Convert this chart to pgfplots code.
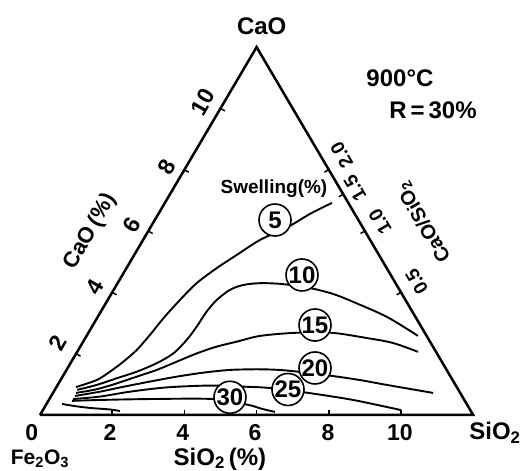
\documentclass[border=0pt]{standalone}
\usepackage{pgfplots}
\pgfplotsset{compat=1.18}
\usepackage{pgfplotstable}
\usepackage{fontspec}
\setmainfont{Liberation Sans}

% triangle (SiO2 %, CaO %)
\pgfplotstableread{
s c
0 0
12 0
0 12
0 0
}\triframe

% swelling contours, (SiO2 %, CaO %)
\pgfplotstableread{
s c
0.54 0.91
1.00 1.14
1.23 1.41
1.44 1.74
1.62 2.12
1.74 2.61
1.84 3.15
2.00 3.75
2.19 4.30
2.50 4.79
2.84 5.22
3.24 5.71
3.80 6.13
4.20 6.56
4.63 6.92
}\cFive

\pgfplotstableread{
s c
0.62 0.82
1.08 0.98
1.53 1.20
1.97 1.41
2.39 1.69
2.69 2.01
2.84 2.45
2.90 2.88
2.93 3.37
3.02 3.75
3.22 4.08
3.51 4.24
3.95 4.30
4.59 4.27
5.41 4.14
6.14 3.95
6.83 3.69
8.01 3.20
9.18 2.58
}\cTen

\pgfplotstableread{
s c
0.64 0.72
1.15 0.84
1.61 1.03
2.05 1.25
2.50 1.47
2.92 1.74
3.34 2.01
3.78 2.23
4.25 2.39
4.81 2.58
5.73 2.68
6.75 2.68
7.80 2.51
8.60 2.35
9.44 2.06
}\cFifteen

\pgfplotstableread{
s c
0.66 0.62
1.28 0.76
1.85 0.92
2.50 1.09
3.16 1.25
3.83 1.38
4.53 1.47
5.35 1.49
6.12 1.45
7.48 1.27
8.29 1.14
9.12 0.98
10.53 0.72
}\cTwenty

\pgfplotstableread{
s c
0.65 0.52
1.36 0.60
2.11 0.76
3.06 0.90
4.23 0.96
5.27 0.92
5.93 0.88
7.07 0.72
8.43 0.49
9.92 0.16
}\cTwentyFive

\pgfplotstableread{
s c
0.66 0.46
1.42 0.49
2.79 0.52
4.53 0.52
5.60 0.33
6.05 0.20
6.46 0.10
}\cThirty

\pgfplotstableread{
s c
0.43 0.36
0.82 0.29
1.27 0.23
1.85 0.18
2.15 0.13
}\cExtra

\begin{document}
\begin{tikzpicture}
\begin{axis}[
  x=36.1pt, y=35.4pt,
  xmin=-1.108, xmax=13.463, ymin=-1.582, ymax=11.723,
  hide axis, clip=false,
  every axis plot/.append style={black},
]
\coordinate (bl) at (axis cs:-1.108,-1.582);
\coordinate (tr) at (axis cs:13.463,11.723);

\addplot[line width=2.5pt, line join=miter, no markers] table[x expr=\thisrow{s}+0.5*\thisrow{c}, y expr=0.8660254*\thisrow{c}] {\triframe};

\addplot[line width=1.9pt, smooth, tension=0.5, no markers] table[x expr=\thisrow{s}+0.5*\thisrow{c}, y expr=0.8660254*\thisrow{c}] {\cFive};
\addplot[line width=1.9pt, smooth, tension=0.5, no markers] table[x expr=\thisrow{s}+0.5*\thisrow{c}, y expr=0.8660254*\thisrow{c}] {\cTen};
\addplot[line width=1.9pt, smooth, tension=0.5, no markers] table[x expr=\thisrow{s}+0.5*\thisrow{c}, y expr=0.8660254*\thisrow{c}] {\cFifteen};
\addplot[line width=1.9pt, smooth, tension=0.5, no markers] table[x expr=\thisrow{s}+0.5*\thisrow{c}, y expr=0.8660254*\thisrow{c}] {\cTwenty};
\addplot[line width=1.9pt, smooth, tension=0.5, no markers] table[x expr=\thisrow{s}+0.5*\thisrow{c}, y expr=0.8660254*\thisrow{c}] {\cTwentyFive};
\addplot[line width=1.9pt, smooth, tension=0.5, no markers] table[x expr=\thisrow{s}+0.5*\thisrow{c}, y expr=0.8660254*\thisrow{c}] {\cThirty};
\addplot[line width=1.9pt, smooth, tension=0.5, no markers] table[x expr=\thisrow{s}+0.5*\thisrow{c}, y expr=0.8660254*\thisrow{c}] {\cExtra};

% ticks (short inward marks)
\draw[line width=1.5pt] (axis cs:2,0) -- (axis cs:2,0.14);
\draw[line width=1.5pt] (axis cs:4,0) -- (axis cs:4,0.14);
\draw[line width=1.5pt] (axis cs:6,0) -- (axis cs:6,0.14);
\draw[line width=1.5pt] (axis cs:8,0) -- (axis cs:8,0.14);
\draw[line width=1.5pt] (axis cs:10,0) -- (axis cs:10,0.14);
\draw[line width=1.5pt] (axis cs:1,1.7321) -- (axis cs:1.121,1.6621);
\draw[line width=1.5pt] (axis cs:2,3.4641) -- (axis cs:2.121,3.3941);
\draw[line width=1.5pt] (axis cs:3,5.1962) -- (axis cs:3.121,5.1262);
\draw[line width=1.5pt] (axis cs:4,6.9282) -- (axis cs:4.121,6.8582);
\draw[line width=1.5pt] (axis cs:5,8.6603) -- (axis cs:5.121,8.5903);
\draw[line width=1.5pt] (axis cs:10,3.4641) -- (axis cs:9.879,3.3941);
\draw[line width=1.5pt] (axis cs:9,5.1962) -- (axis cs:8.879,5.1262);
\draw[line width=1.5pt] (axis cs:8.4,6.2354) -- (axis cs:8.279,6.1654);
\draw[line width=1.5pt] (axis cs:8,6.9282) -- (axis cs:7.879,6.8582);

% contour labels
\tikzset{cl/.style={draw, circle, fill=white, line width=1.6pt, minimum size=32pt, inner sep=0pt, font=\fontsize{24}{24}\selectfont\bfseries}}
\node[cl] at (axis cs:6.510,5.508) {5};
\node[cl] at (axis cs:7.258,3.955) {10};
\node[cl] at (axis cs:7.618,2.542) {15};
\node[cl] at (axis cs:7.618,1.328) {20};
\node[cl] at (axis cs:6.870,0.720) {25};
\node[cl] at (axis cs:5.263,0.500) {30};

% texts
\tikzset{tx/.style={inner sep=0pt, font=\fontsize{24}{24}\selectfont\bfseries}}
\node[tx] at (axis cs:6.141,10.969) {CaO};
\node[tx] at (axis cs:9.972,9.511) {900°C};
\node[tx] at (axis cs:10.886,8.616) {R\,=\,30\%};
\node[tx, font=\fontsize{19}{19}\selectfont\bfseries] at (axis cs:6.482,6.398) {Swelling(\%)};
\node[tx, rotate=60, font=\fontsize{22}{22}\selectfont\bfseries] at (axis cs:1.404,5.178) {CaO\,(\%)};
\node[tx, rotate=120, font=\fontsize{20}{20}\selectfont\bfseries] at (axis cs:10.63,5.45) {CaO/SiO\textsubscript{2}};

\tikzset{tk/.style={inner sep=0pt, font=\fontsize{23}{23}\selectfont\bfseries}}
\node[tk] at (axis cs:-0.23,-0.508) {0};
\node[tk] at (axis cs:1.939,-0.508) {2};
\node[tk] at (axis cs:3.953,-0.508) {4};
\node[tk] at (axis cs:5.956,-0.508) {6};
\node[tk] at (axis cs:7.978,-0.508) {8};
\node[tk] at (axis cs:9.972,-0.508) {10};
\node[tx] at (axis cs:12.604,-0.508) {SiO\textsubscript{2}};
\node[tx, font=\fontsize{21}{21}\selectfont\bfseries] at (axis cs:0,-1.243) {Fe\textsubscript{2}O\textsubscript{3}};
\node[tx] at (axis cs:4.986,-1.243) {SiO\textsubscript{2}\,(\%)};

\node[tk, rotate=60] at (axis cs:0.499,2.034) {2};
\node[tk, rotate=60] at (axis cs:1.524,3.616) {4};
\node[tk, rotate=60] at (axis cs:2.548,5.367) {6};
\node[tk, rotate=60] at (axis cs:3.518,7.006) {8};
\node[tk, rotate=60] at (axis cs:4.515,8.842) {10};

\node[tk, rotate=120, font=\fontsize{19}{19}\selectfont\bfseries] at (axis cs:10.435,3.766) {0.5};
\node[tk, rotate=120, font=\fontsize{19}{19}\selectfont\bfseries] at (axis cs:9.418,5.460) {1.0};
\node[tk, rotate=120, font=\fontsize{19}{19}\selectfont\bfseries] at (axis cs:8.726,6.412) {1.5};
\node[tk, rotate=120, font=\fontsize{19}{19}\selectfont\bfseries] at (axis cs:8.357,7.345) {2.0};
\end{axis}
\pgfresetboundingbox
\path[use as bounding box] (bl) rectangle (tr);
\end{tikzpicture}
\end{document}
